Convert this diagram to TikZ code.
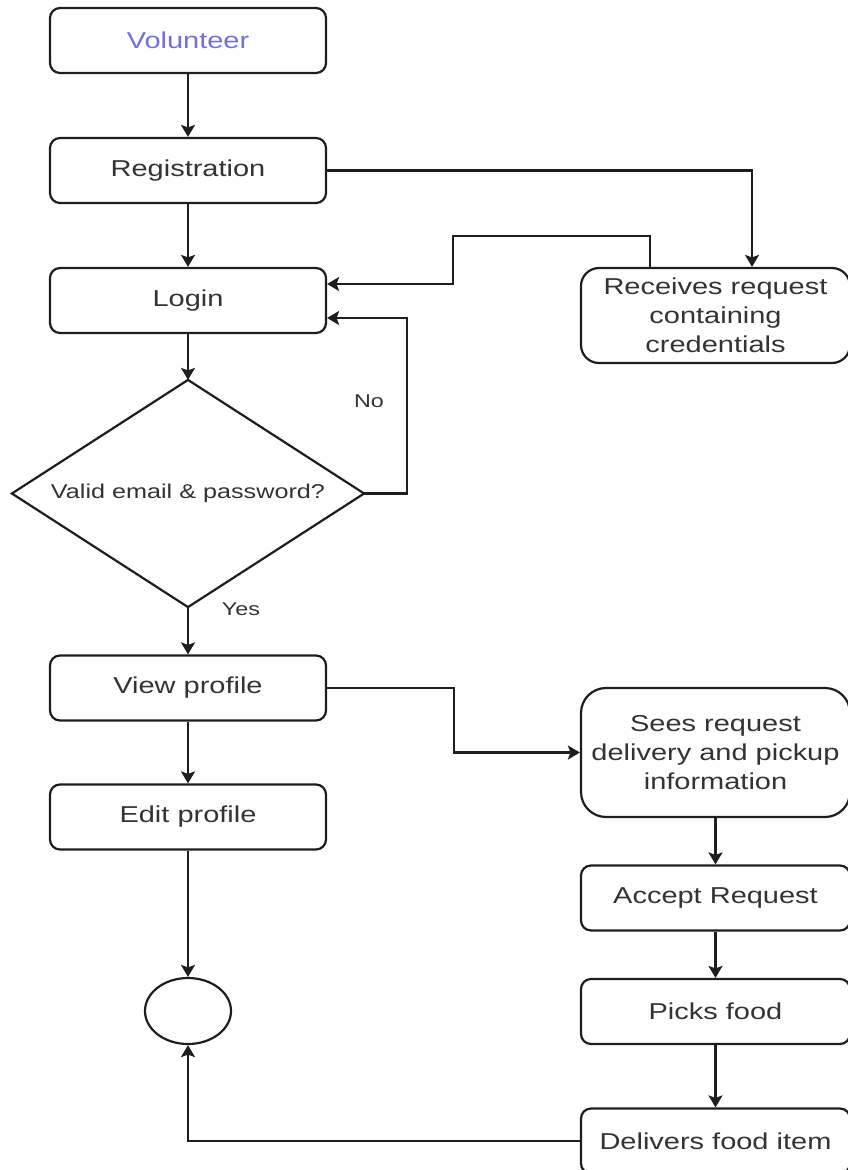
\documentclass[tikz,border=0pt]{standalone}
\usepackage{fontspec}
\setmainfont[FakeStretch=1.26]{Liberation Sans}
\usetikzlibrary{arrows.meta,shapes.geometric,calc}
\definecolor{ink}{RGB}{30,30,30}
\definecolor{txt}{RGB}{51,51,51}
\definecolor{actor}{RGB}{112,112,226}
\begin{document}
\begin{tikzpicture}[x=1pt,y=-1pt,
  line width=2.2pt,
  base/.style={draw=ink,text=txt,inner sep=2pt,align=center,
    font=\fontsize{23}{29}\selectfont},
  leftbox/.style={base,rounded corners=10pt,minimum width=276pt,minimum height=65pt},
  rightbox/.style={base,rounded corners=10pt,minimum width=269pt,minimum height=65pt},
  decision/.style={text=txt,inner sep=0pt,minimum width=350pt,minimum height=225pt,
    font=\fontsize{20}{24}\selectfont},
  endstate/.style={draw=ink,ellipse,minimum width=86pt,minimum height=66pt,inner sep=0pt},
  lbl/.style={text=txt,inner sep=0pt,font=\fontsize{18.5}{22}\selectfont},
  arr/.style={draw=ink,-{Stealth[length=12pt,width=14pt,inset=2.5pt]}}]
\useasboundingbox (0,0) rectangle (847,1170);

% volunteer column
\node[leftbox,text=actor] (vol) at (188,40.5) {Volunteer};
\node[leftbox] (reg) at (188,170.5) {Registration};
\node[leftbox] (login) at (188,300.5) {Login};
\node[decision] (dec) at (188,493.5) {Valid email \& password?};
\draw[ink] (dec.north) -- (dec.east) -- (dec.south) -- (dec.west) -- cycle;
\node[leftbox] (view) at (188,688) {View profile};
\node[leftbox] (edit) at (188,817) {Edit profile};
\node[endstate] (endc) at (188,1011) {};

% system / delivery column
\node[rightbox,rounded corners=18pt,minimum height=95pt] (recv) at (715.5,315.5)
  {Receives request\\containing\\credentials};
\node[rightbox,rounded corners=25pt,minimum height=129pt] (sees) at (715.5,752.5)
  {Sees request\\delivery and pickup\\information};
\node[rightbox] (acc) at (715.5,898) {Accept Request};
\node[rightbox] (picks) at (715.5,1011.5) {Picks food};
\node[rightbox] (deliv) at (715.5,1141) {Delivers food item};

% labels
\node[lbl] (no) at (369,401) {No};
\node[lbl] (yes) at (241,609) {Yes};

% main flow
\draw[arr] (vol.south) -- (reg.north);
\draw[arr] (reg.south) -- (login.north);
\draw[arr] (login.south) -- (dec.north);
\draw[arr] (dec.south) -- (view.north);
\draw[arr] (view.south) -- (edit.north);
\draw[arr] (edit.south) -- (endc.north);

% registration request and credentials back to login
\draw[arr] (reg.east) -| ([xshift=36.5pt]recv.north);
\coordinate (cred) at (453,236);
\draw[arr] ([xshift=-65.5pt]recv.north) |- (cred) |- ([yshift=16.5pt]login.east);

% invalid credentials loop
\draw[arr] (dec.east) -- ++(43,0) |- ([yshift=-17.5pt]login.east);

% delivery flow
\draw[arr] (view.east) -- ++(127,0) |- (sees.west);
\draw[arr] (sees.south) -- (acc.north);
\draw[arr] (acc.south) -- (picks.north);
\draw[arr] (picks.south) -- (deliv.north);
\draw[arr] (deliv.west) -| (endc.south);
\end{tikzpicture}
\end{document}
